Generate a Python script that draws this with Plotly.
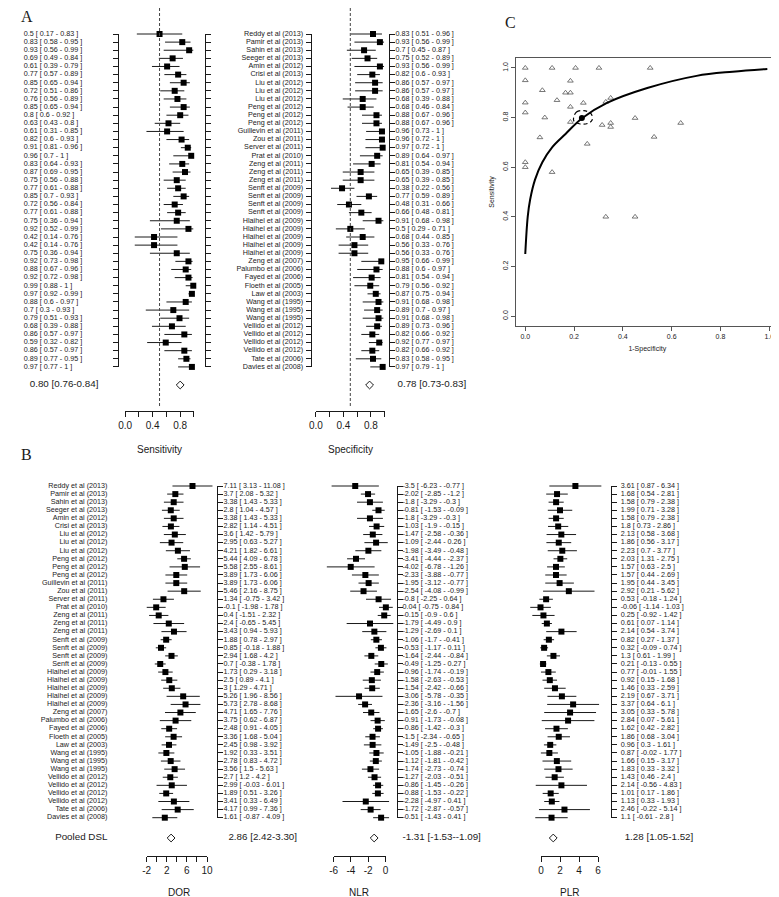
import plotly.graph_objects as go

W, H = 779, 897

# ---------------- data ----------------
studies = [
    "Reddy et al (2013)", "Pamir et al (2013)", "Sahin et al (2013)", "Seeger et al (2013)",
    "Amin et al (2012)", "Crisi et al (2013)", "Liu et al (2012)", "Liu et al (2012)",
    "Liu et al (2012)", "Peng et al (2012)", "Peng et al (2012)", "Peng et al (2012)",
    "Guillevin et al (2011)", "Zou et al (2011)", "Server et al (2011)", "Prat et al (2010)",
    "Zeng et al (2011)", "Zeng et al (2011)", "Zeng et al (2011)", "Senft et al (2009)",
    "Senft et al (2009)", "Senft et al (2009)", "Senft et al (2009)", "Hlaihel et al (2009)",
    "Hlaihel et al (2009)", "Hlaihel et al (2009)", "Hlaihel et al (2009)", "Hlaihel et al (2009)",
    "Zeng et al (2007)", "Palumbo et al (2006)", "Fayed et al (2006)", "Floeth et al (2005)",
    "Law et al (2003)", "Wang et al (1995)", "Wang et al (1995)", "Wang et al (1995)",
    "Vellido et al (2012)", "Vellido et al (2012)", "Vellido et al (2012)", "Vellido et al (2012)",
    "Tate et al (2006)", "Davies et al (2008)",
]

sens = [0.5, 0.83, 0.93, 0.69, 0.61, 0.77, 0.85, 0.72, 0.76, 0.85, 0.8, 0.63, 0.61, 0.82,
        0.91, 0.96, 0.83, 0.87, 0.75, 0.77, 0.85, 0.72, 0.77, 0.75, 0.92, 0.42, 0.42, 0.75,
        0.92, 0.88, 0.92, 0.99, 0.97, 0.88, 0.7, 0.79, 0.68, 0.86, 0.59, 0.86, 0.89, 0.97]
sens_lo = [0.17, 0.58, 0.56, 0.49, 0.39, 0.57, 0.65, 0.51, 0.56, 0.65, 0.6, 0.43, 0.31, 0.6,
           0.81, 0.7, 0.64, 0.69, 0.56, 0.61, 0.7, 0.56, 0.61, 0.36, 0.52, 0.14, 0.14, 0.36,
           0.73, 0.67, 0.72, 0.88, 0.92, 0.6, 0.3, 0.51, 0.39, 0.57, 0.32, 0.57, 0.77, 0.77]
sens_hi = [0.83, 0.95, 0.99, 0.84, 0.79, 0.89, 0.94, 0.86, 0.89, 0.94, 0.92, 0.8, 0.85, 0.93,
           0.96, 1, 0.93, 0.95, 0.88, 0.88, 0.93, 0.84, 0.88, 0.94, 0.99, 0.76, 0.76, 0.94,
           0.98, 0.96, 0.98, 1, 0.99, 0.97, 0.93, 0.93, 0.88, 0.97, 0.82, 0.97, 0.95, 1]

spec = [0.83, 0.93, 0.7, 0.75, 0.93, 0.82, 0.86, 0.86, 0.68, 0.68, 0.88, 0.88, 0.96, 0.96,
        0.97, 0.89, 0.81, 0.65, 0.65, 0.38, 0.77, 0.48, 0.66, 0.91, 0.5, 0.68, 0.56, 0.56,
        0.95, 0.88, 0.81, 0.79, 0.87, 0.91, 0.89, 0.91, 0.89, 0.82, 0.92, 0.82, 0.83, 0.97]
spec_lo = [0.51, 0.56, 0.45, 0.52, 0.56, 0.6, 0.57, 0.57, 0.39, 0.46, 0.67, 0.67, 0.73, 0.72,
           0.72, 0.64, 0.54, 0.39, 0.39, 0.22, 0.59, 0.31, 0.48, 0.68, 0.29, 0.44, 0.33, 0.33,
           0.66, 0.6, 0.54, 0.56, 0.75, 0.68, 0.7, 0.68, 0.73, 0.66, 0.77, 0.66, 0.58, 0.79]
spec_hi = [0.96, 0.99, 0.87, 0.89, 0.99, 0.93, 0.97, 0.97, 0.88, 0.84, 0.96, 0.96, 1, 1,
           1, 0.97, 0.94, 0.85, 0.85, 0.56, 0.89, 0.66, 0.81, 0.98, 0.71, 0.85, 0.76, 0.76,
           0.99, 0.97, 0.94, 0.92, 0.94, 0.98, 0.97, 0.98, 0.96, 0.92, 0.97, 0.92, 0.95, 1]

pooled_sens = [0.80, 0.76, 0.84]
pooled_spec = [0.78, 0.73, 0.83]

dor = [7.11, 3.7, 3.38, 2.8, 3.38, 2.82, 3.6, 2.95, 4.21, 5.44, 5.58, 3.89, 3.89, 5.46,
       1.34, -0.1, 0.4, 2.4, 3.43, 1.88, 0.85, 2.94, 0.7, 1.73, 2.5, 3, 5.26, 5.73,
       4.71, 3.75, 2.48, 3.36, 2.45, 1.92, 2.78, 3.56, 2.7, 2.99, 1.89, 3.41, 4.17, 1.61]
dor_lo = [3.13, 2.08, 1.43, 1.04, 1.43, 1.14, 1.42, 0.63, 1.82, 4.09, 2.55, 1.73, 1.73, 2.16,
          -0.75, -1.98, -1.51, -0.65, 0.94, 0.78, -0.18, 1.68, -0.38, 0.29, 0.89, 1.29, 1.96, 2.78,
          1.65, 0.62, 0.91, 1.68, 0.98, 0.33, 0.83, 1.5, 1.2, -0.03, 0.51, 0.33, 0.99, -0.87]
dor_hi = [11.08, 5.32, 5.33, 4.57, 5.33, 4.51, 5.79, 5.27, 6.61, 6.78, 8.61, 6.06, 6.06, 8.75,
          3.42, 1.78, 2.32, 5.45, 5.93, 2.97, 1.88, 4.2, 1.78, 3.18, 4.1, 4.71, 8.56, 8.68,
          7.76, 6.87, 4.05, 5.04, 3.92, 3.51, 4.72, 5.63, 4.2, 6.01, 3.26, 6.49, 7.36, 4.09]

nlr = [-3.5, -2.02, -1.8, -0.81, -1.8, -1.03, -1.47, -1.09, -1.98, -3.41, -4.02, -2.33, -1.95, -2.54,
       -0.8, 0.04, -0.15, -1.79, -1.29, -1.06, -0.53, -1.64, -0.49, -0.96, -1.58, -1.54, -3.06, -2.36,
       -1.65, -0.91, -0.86, -1.5, -1.49, -1.05, -1.12, -1.74, -1.27, -0.86, -0.88, -2.28, -1.72, -0.51]
nlr_lo = [-6.23, -2.85, -3.29, -1.53, -3.29, -1.9, -2.58, -2.44, -3.49, -4.44, -6.78, -3.88, -3.12, -4.08,
          -2.25, -0.75, -0.9, -4.49, -2.69, -1.7, -1.17, -2.44, -1.25, -1.74, -2.63, -2.42, -5.78, -3.16,
          -2.6, -1.73, -1.42, -2.34, -2.5, -1.88, -1.81, -2.73, -2.03, -1.45, -1.53, -4.97, -2.87, -1.43]
nlr_hi = [-0.77, -1.2, -0.3, -0.09, -0.3, -0.15, -0.36, 0.26, -0.48, -2.37, -1.26, -0.77, -0.77, -0.99,
          0.64, 0.84, 0.6, 0.9, 0.1, -0.41, 0.11, -0.84, 0.27, -0.19, -0.53, -0.66, -0.35, -1.56,
          -0.7, -0.08, -0.3, -0.65, -0.48, -0.21, -0.42, -0.74, -0.51, -0.26, -0.22, 0.41, -0.57, 0.41]

plr = [3.61, 1.68, 1.58, 1.99, 1.58, 1.8, 2.13, 1.86, 2.23, 2.03, 1.57, 1.57, 1.95, 2.92,
       0.53, -0.06, 0.25, 0.61, 2.14, 0.82, 0.32, 1.3, 0.21, 0.77, 0.92, 1.46, 2.19, 3.37,
       3.05, 2.84, 1.62, 1.86, 0.96, 0.87, 1.66, 1.83, 1.43, 2.14, 1.01, 1.13, 2.46, 1.1]
plr_lo = [0.87, 0.54, 0.79, 0.71, 0.79, 0.73, 0.58, 0.56, 0.7, 1.31, 0.63, 0.44, 0.44, 0.21,
          -0.18, -1.14, -0.92, 0.07, 0.54, 0.27, -0.09, 0.61, -0.13, -0.01, 0.15, 0.33, 0.67, 0.64,
          0.33, 0.07, 0.42, 0.68, 0.3, -0.02, 0.15, 0.33, 0.46, -0.56, 0.17, 0.33, -0.22, -0.61]
plr_hi = [6.34, 2.81, 2.38, 3.28, 2.38, 2.86, 3.68, 3.17, 3.77, 2.75, 2.5, 2.69, 3.45, 5.62,
          1.24, 1.03, 1.42, 1.14, 3.74, 1.37, 0.74, 1.99, 0.55, 1.55, 1.68, 2.59, 3.71, 6.1,
          5.78, 5.61, 2.82, 3.04, 1.61, 1.77, 3.17, 3.32, 2.4, 4.83, 1.86, 1.93, 5.14, 2.8]

pooled_dor = [2.86, 2.42, 3.30]
pooled_nlr = [-1.31, -1.53, -1.09]
pooled_plr = [1.28, 1.05, 1.52]
pooled_label = "Pooled DSL"

ref_line = 0.5
prop_ticks = [0, 0.2, 0.4, 0.6, 0.8, 1.0]
prop_ticktext = ["0.0", "", "0.4", "", "0.8", ""]
dor_ticks = [-2, 0, 2, 4, 6, 8, 10]
dor_ticktext = ["-2", "", "2", "", "6", "", "10"]
nlr_ticks = [-6, -4, -2, 0]
nlr_ticktext = ["-6", "-4", "-2", "0"]
plr_ticks = [0, 2, 4, 6]
plr_ticktext = ["0", "2", "4", "6"]
roc_ticks = [0, 0.2, 0.4, 0.6, 0.8, 1.0]
roc_ticktext = ["0.0", "0.2", "0.4", "0.6", "0.8", "1.0"]

# panel C
roc_fpr = [0.0, 0.11, 0.206, 0.302, 0.512, 0.0, 0.185, 0.07, 0.165, 0.185, 0.0, 0.13, 0.238,
           0.185, 0.33, 0.35, 0.0, 0.08, 0.185, 0.315, 0.35, 0.35, 0.45, 0.637, 0.06, 0.528,
           0.254, 0.0, 0.0, 0.11, 0.33, 0.45]
roc_sens = [1.0, 1.0, 1.0, 1.0, 1.0, 0.95, 0.948, 0.91, 0.90, 0.90, 0.86, 0.87, 0.859,
            0.843, 0.863, 0.879, 0.82, 0.80, 0.782, 0.77, 0.778, 0.762, 0.798, 0.778, 0.72, 0.722,
            0.694, 0.62, 0.60, 0.58, 0.40, 0.40]
sroc_fpr = [0.0, 0.01, 0.02, 0.04, 0.07, 0.11, 0.165, 0.234, 0.335, 0.5, 0.702, 0.85, 0.992]
sroc_sens = [0.25, 0.40, 0.47, 0.55, 0.62, 0.68, 0.734, 0.798, 0.859, 0.919, 0.968, 0.985, 0.996]
ci_fpr = [0.198, 0.21, 0.24, 0.27, 0.274, 0.255, 0.225, 0.20, 0.198]
ci_sens = [0.80, 0.822, 0.828, 0.815, 0.79, 0.776, 0.774, 0.785, 0.80]
summary_fpr = [0.232]
summary_sens = [0.798]

# ---------------- style / geometry ----------------
FONT = "Liberation Sans, Arial, Helvetica, sans-serif"
SERIF = "Liberation Serif, Times New Roman, serif"
INK = "#1a1a1a"
ROWTXT = 7.2

n = len(studies)
rows = list(range(1, n + 1))


def fx(p):
    return p / W


def fy(p):
    return 1 - p / H


PA = dict(top=26.0, step=8.12, pool=377.0, axis=403.0, head=0.0)
PB = dict(top=478.0, step=8.09, pool=830.0, axis=848.0, head=450.0)


def rv(P, p):
    return 1 + (p - P["top"]) / P["step"]


def g(v):
    return f"{v:g}"


def lab(v, lo, hi):
    return f"{g(v)} [ {g(lo)} - {g(hi)} ]"


def plab(t):
    return f"{t[0]:.2f} [{t[1]:.2f}-{t[2]:.2f}]"


fig = go.Figure()
layout = dict(width=W, height=H, margin=dict(l=0, r=0, t=0, b=0, pad=0),
              paper_bgcolor="white", plot_bgcolor="rgba(0,0,0,0)",
              showlegend=False, hovermode=False)

layout["yaxis"] = dict(domain=[fy(PA["axis"]), fy(PA["head"])],
                       range=[rv(PA, PA["axis"]), rv(PA, PA["head"])], visible=False)
layout["yaxis2"] = dict(domain=[fy(PB["axis"]), fy(PB["head"])],
                        range=[rv(PB, PB["axis"]), rv(PB, PB["head"])], visible=False)

xcount = [0]


def next_x():
    xcount[0] += 1
    k = xcount[0]
    return ("x" if k == 1 else f"x{k}"), ("xaxis" if k == 1 else f"xaxis{k}")


ycount = [2]


def next_y():
    ycount[0] += 1
    k = ycount[0]
    return f"y{k}", f"yaxis{k}"


def forest_column(yref, P, p0, k, data_px, tick_span, tv, tt, vals, lo, hi, pooled, dashed=False):
    xd, xdkey = next_x()
    layout[xdkey] = dict(domain=[fx(data_px[0]), fx(data_px[1])],
                         range=[(data_px[0] - p0) / k, (data_px[1] - p0) / k],
                         anchor=yref, visible=False)
    xt, xtkey = next_x()
    layout[xtkey] = dict(domain=[fx(p0 + k * tick_span[0]), fx(p0 + k * tick_span[1])],
                         range=list(tick_span), anchor=yref, showline=True, linecolor=INK,
                         linewidth=1, ticks="outside", ticklen=5, tickwidth=1, tickcolor=INK,
                         tickvals=tv, ticktext=tt, showgrid=False, zeroline=False,
                         tickfont=dict(family=FONT, size=10, color=INK))
    fig.add_trace(go.Scatter(x=[None], y=[None], xaxis=xt, yaxis=yref, hoverinfo="skip"))
    ex, ey = [], []
    for r, a, b in zip(rows, lo, hi):
        ex += [a, b, None]
        ey += [r, r, None]
    fig.add_trace(go.Scatter(x=ex, y=ey, mode="lines", line=dict(color=INK, width=1),
                             xaxis=xd, yaxis=yref, hoverinfo="skip", cliponaxis=False))
    fig.add_trace(go.Scatter(x=vals, y=rows, mode="markers",
                             marker=dict(symbol="square", size=6, color="black"),
                             xaxis=xd, yaxis=yref, hoverinfo="skip", cliponaxis=False))
    fig.add_trace(go.Scatter(x=[pooled[0]], y=[rv(P, P["pool"])], mode="markers",
                             marker=dict(symbol="diamond-open", size=6, color=INK,
                                         line=dict(width=1, color=INK)),
                             xaxis=xd, yaxis=yref, hoverinfo="skip", cliponaxis=False))
    if dashed:
        layout.setdefault("shapes", []).append(
            dict(type="line", xref=xd, yref="paper", x0=ref_line, x1=ref_line,
                 y0=fy(P["axis"] - 5), y1=fy(P["head"]),
                 line=dict(color="#444", width=1, dash="3px,2px")))


def bracket(P, px, side):
    xb, xbkey = next_x()
    yb, ybkey = next_y()
    dom = [fx(px), fx(px + 2)] if side == "left" else [fx(px - 2), fx(px)]
    layout[xbkey] = dict(domain=dom, range=[0, 1], anchor=yb, visible=False)
    last = P["top"] + (n - 1) * P["step"]
    layout[ybkey] = dict(domain=[fy(last), fy(P["top"])], range=[n + 1e-6, 1 - 1e-6],
                         anchor=xb, side=side, showline=True, linecolor=INK, linewidth=1,
                         ticks="outside", ticklen=5, tickwidth=1, tickcolor=INK,
                         tickvals=rows, showticklabels=False, showgrid=False, zeroline=False)
    fig.add_trace(go.Scatter(x=[None], y=[None], xaxis=xb, yaxis=yb, hoverinfo="skip"))


def text_col(xref, yref, xs, ys, texts, pos, size=ROWTXT):
    fig.add_trace(go.Scatter(x=xs, y=ys, text=texts, mode="text", textposition=pos,
                             textfont=dict(family=FONT, size=size, color=INK),
                             xaxis=xref, yaxis=yref, hoverinfo="skip", cliponaxis=False))


# ---------------- Panel A ----------------
forest_column("y", PA, 112, 70, (98, 196), (0, 1), prop_ticks, prop_ticktext,
              sens, sens_lo, sens_hi, pooled_sens, dashed=True)
forest_column("y", PA, 306, 70, (292, 390), (0, 1), prop_ticks, prop_ticktext,
              spec, spec_lo, spec_hi, pooled_spec, dashed=True)
xa_txt, xa_key = next_x()
layout[xa_key] = dict(domain=[0, 1], range=[0, W], anchor="y", visible=False)
text_col(xa_txt, "y", [9] * n, rows, [lab(*t) for t in zip(sens, sens_lo, sens_hi)], "middle right")
text_col(xa_txt, "y", [293] * n, rows, studies, "middle left")
text_col(xa_txt, "y", [387] * n, rows, [lab(*t) for t in zip(spec, spec_lo, spec_hi)], "middle right")
text_col(xa_txt, "y", [15], [rv(PA, PA["pool"])], [plab(pooled_sens)], "middle right", 9.8)
text_col(xa_txt, "y", [389], [rv(PA, PA["pool"])], [plab(pooled_spec)], "middle right", 9.8)
for px, side in [(106, "left"), (193, "right"), (302, "left"), (380, "right")]:
    bracket(PA, px, side)

# ---------------- Panel B ----------------
forest_column("y2", PB, 144.1, 5.12, (126, 203), (-2, 10), dor_ticks, dor_ticktext,
              dor, dor_lo, dor_hi, pooled_dor)
forest_column("y2", PB, 376.8, 8.8, (312, 387), (-6, 0), nlr_ticks, nlr_ticktext,
              nlr, nlr_lo, nlr_hi, pooled_nlr)
forest_column("y2", PB, 535, 9.67, (518, 603), (0, 6), plr_ticks, plr_ticktext,
              plr, plr_lo, plr_hi, pooled_plr)
xb_txt, xb_key = next_x()
layout[xb_key] = dict(domain=[0, 1], range=[0, W], anchor="y2", visible=False)
text_col(xb_txt, "y2", [94] * n, rows, studies, "middle left")
text_col(xb_txt, "y2", [94], [rv(PB, PB["pool"])], [pooled_label], "middle left", 9.8)
text_col(xb_txt, "y2", [212] * n, rows, [lab(*t) for t in zip(dor, dor_lo, dor_hi)], "middle right")
text_col(xb_txt, "y2", [394] * n, rows, [lab(*t) for t in zip(nlr, nlr_lo, nlr_hi)], "middle right")
text_col(xb_txt, "y2", [616] * n, rows, [lab(*t) for t in zip(plr, plr_lo, plr_hi)], "middle right")
text_col(xb_txt, "y2", [217], [rv(PB, PB["pool"])], [plab(pooled_dor)], "middle right", 9.8)
text_col(xb_txt, "y2", [394], [rv(PB, PB["pool"])], [plab(pooled_nlr)], "middle right", 9.8)
text_col(xb_txt, "y2", [620], [rv(PB, PB["pool"])], [plab(pooled_plr)], "middle right", 9.8)
for px, side in [(205, "right"), (388, "right"), (606, "right")]:
    bracket(PB, px, side)

# ---------------- Panel C ----------------
xc, xc_key = next_x()
yc, yc_key = next_y()
common_c = dict(range=[-0.04, 1.04], showline=True, mirror=True, linecolor="#555", linewidth=1,
                ticks="outside", ticklen=4, tickcolor="#555", tickvals=roc_ticks,
                ticktext=roc_ticktext, showgrid=False, zeroline=False,
                tickfont=dict(family=FONT, size=7, color=INK))
layout[xc_key] = dict(domain=[fx(509), fx(777)], anchor=yc,
                      title=dict(text="1-Specificity", font=dict(family=FONT, size=7, color=INK), standoff=6),
                      **common_c)
layout[yc_key] = dict(domain=[fy(318), fy(50)], anchor=xc, tickangle=-90,
                      title=dict(text="Sensitivity", font=dict(family=FONT, size=7, color=INK), standoff=6),
                      **common_c)
fig.add_trace(go.Scatter(x=roc_fpr, y=roc_sens, mode="markers", xaxis=xc, yaxis=yc,
                         marker=dict(symbol="triangle-up-open", size=5, color="#555",
                                     line=dict(width=0.8, color="#555")), hoverinfo="skip"))
fig.add_trace(go.Scatter(x=sroc_fpr, y=sroc_sens, mode="lines", xaxis=xc, yaxis=yc,
                         line=dict(color="black", width=2, shape="spline"), hoverinfo="skip"))
fig.add_trace(go.Scatter(x=ci_fpr, y=ci_sens, mode="lines", xaxis=xc, yaxis=yc,
                         line=dict(color="black", width=1.2, dash="4px,3px", shape="spline"),
                         hoverinfo="skip"))
fig.add_trace(go.Scatter(x=summary_fpr, y=summary_sens, mode="markers", xaxis=xc, yaxis=yc,
                         marker=dict(symbol="circle", size=6, color="black"), hoverinfo="skip"))

# ---------------- annotations ----------------
ann = []


def note(text, x, y, size=10, family=FONT, xanchor="center"):
    ann.append(dict(text=text, x=fx(x), y=fy(y), xref="paper", yref="paper", showarrow=False,
                    xanchor=xanchor, yanchor="middle", font=dict(family=family, size=size, color=INK)))


note("A", 4, 9, 16, SERIF, "left")
note("B", 4, 446, 16, SERIF, "left")
note("C", 496, 14, 16, SERIF, "left")
note("Sensitivity", 147, 442)
note("Specificity", 341, 441)
note("DOR", 167, 884)
note("NLR", 350, 884)
note("PLR", 564, 884)
layout["annotations"] = ann

fig.update_layout(**layout)
fig.write_html("out.html", config={"displayModeBar": False})
